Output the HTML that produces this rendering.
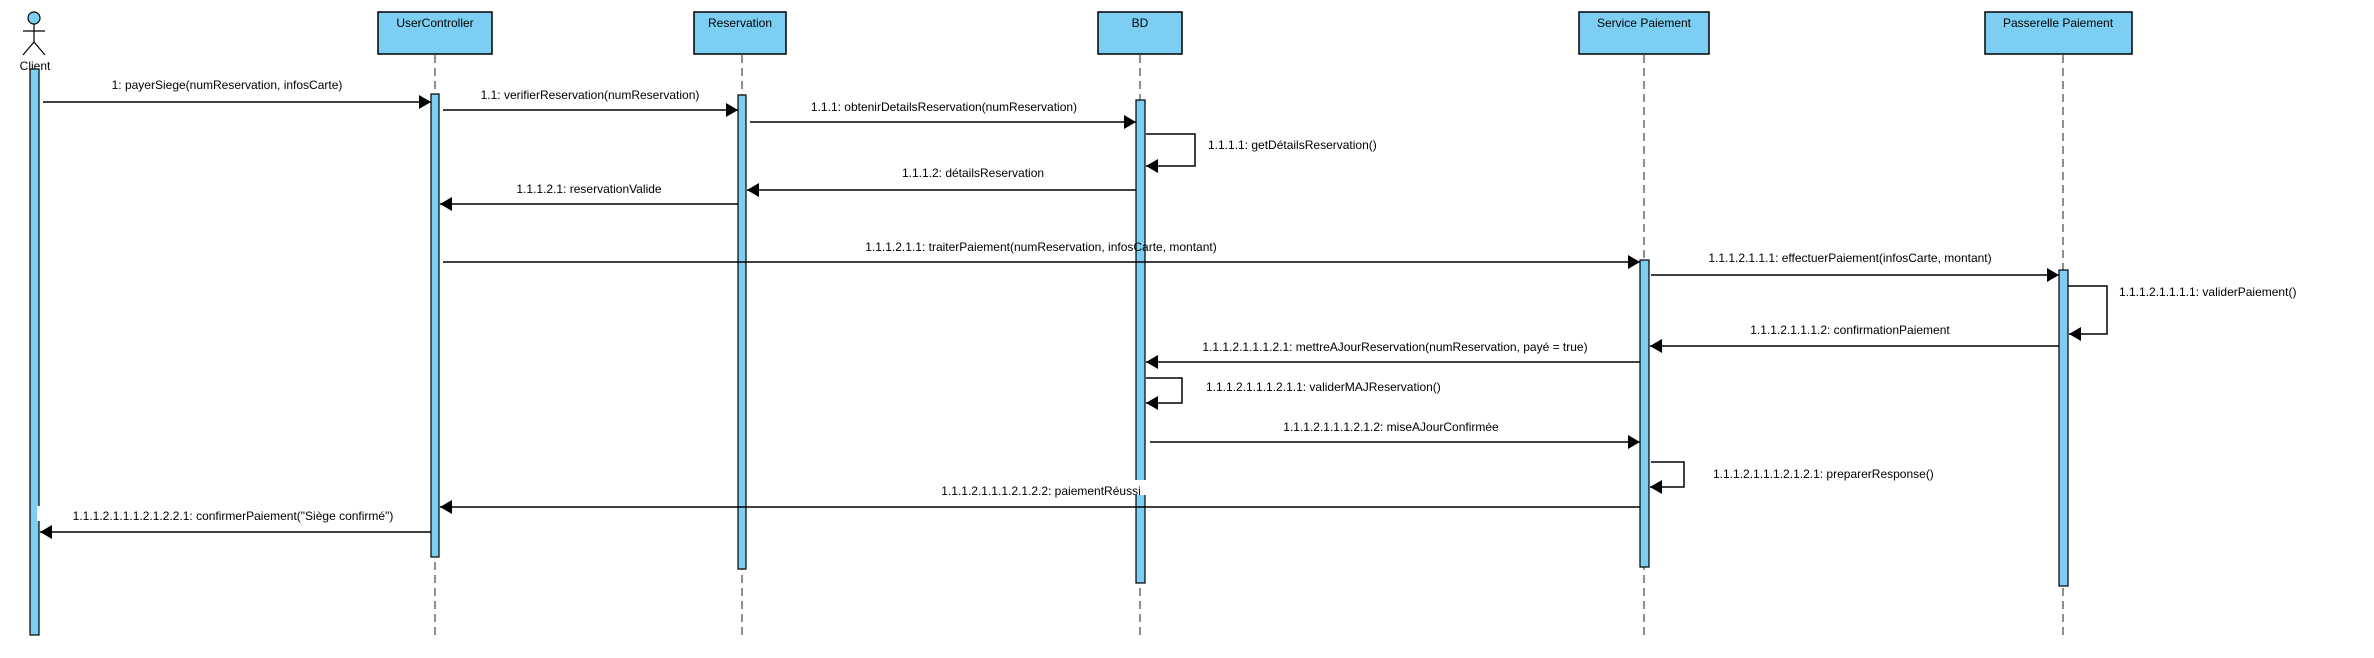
<!DOCTYPE html>
<html><head><meta charset="utf-8"><style>
html,body{margin:0;padding:0;background:#fff;}
svg{display:block;}
text{font-family:"Liberation Sans",sans-serif;font-size:12px;fill:#000;}
</style></head><body>
<svg width="2374" height="658" viewBox="0 0 2374 658" xmlns="http://www.w3.org/2000/svg">
<defs>
<marker id="a" markerWidth="12" markerHeight="14" refX="12" refY="7" orient="auto" markerUnits="userSpaceOnUse">
<path d="M0,0 L12,7 L0,14 Z" fill="#000"/></marker>
</defs>
<g stroke="#222" stroke-width="1" stroke-dasharray="8,5">
<line x1="435" y1="55" x2="435" y2="640"/>
<line x1="742" y1="55" x2="742" y2="640"/>
<line x1="1140" y1="55" x2="1140" y2="640"/>
<line x1="1644" y1="55" x2="1644" y2="640"/>
<line x1="2063" y1="55" x2="2063" y2="640"/>
</g>
<g fill="#7ccff2" stroke="#000" stroke-width="1.5">
<rect x="378" y="12" width="114" height="42"/>
<rect x="694" y="12" width="92" height="42"/>
<rect x="1098" y="12" width="84" height="42"/>
<rect x="1579" y="12" width="130" height="42"/>
<rect x="1985" y="12" width="147" height="42"/>
</g>
<g text-anchor="middle">
<text x="435" y="27">UserController</text>
<text x="740" y="27">Reservation</text>
<text x="1140" y="27">BD</text>
<text x="1644" y="27">Service Paiement</text>
<text x="2058" y="27">Passerelle Paiement</text>
</g>
<!-- actor -->
<g stroke="#000" stroke-width="1.2" fill="none">
<circle cx="34" cy="18" r="6" fill="#7ccff2"/>
<line x1="34" y1="24" x2="34" y2="42"/>
<line x1="23" y1="31" x2="45" y2="31"/>
<line x1="34" y1="42" x2="23" y2="55"/>
<line x1="34" y1="42" x2="45" y2="55"/>
</g>
<text x="35" y="70" text-anchor="middle" font-size="13">Client</text>
<!-- activations -->
<g fill="#7ccff2" stroke="#000" stroke-width="1.2">
<rect x="30" y="69" width="9" height="566"/>
<rect x="431" y="94" width="8" height="463"/>
<rect x="738" y="95" width="8" height="474"/>
<rect x="1136" y="100" width="9" height="483"/>
<rect x="1640" y="260" width="9" height="307"/>
<rect x="2059" y="270" width="9" height="316"/>
</g>
<g stroke="#000" stroke-width="1.5" fill="none" marker-end="url(#a)">
<line x1="43" y1="102" x2="431" y2="102"/>
<line x1="443" y1="110" x2="738" y2="110"/>
<line x1="750" y1="122" x2="1136" y2="122"/>
<polyline points="1146,134 1195,134 1195,166 1146,166"/>
<line x1="1136" y1="190" x2="747" y2="190"/>
<line x1="738" y1="204" x2="440" y2="204"/>
<line x1="443" y1="262" x2="1640" y2="262"/>
<line x1="1651" y1="275" x2="2059" y2="275"/>
<polyline points="2068,286 2107,286 2107,334 2069,334"/>
<line x1="2059" y1="346" x2="1650" y2="346"/>
<line x1="1640" y1="362" x2="1146" y2="362"/>
<polyline points="1146,378 1182,378 1182,403 1146,403"/>
<line x1="1150" y1="442" x2="1640" y2="442"/>
<polyline points="1651,462 1684,462 1684,487 1650,487"/>
</g>
<!-- labels with white background -->
<rect x="918" y="480" width="246" height="15" fill="#fff"/>
<rect x="37" y="506" width="392" height="15" fill="#fff"/>
<g stroke="#000" stroke-width="1.5" fill="none" marker-end="url(#a)">
<line x1="1640" y1="507" x2="440" y2="507"/>
<line x1="431" y1="532" x2="40" y2="532"/>
</g>
<g text-anchor="middle">
<text x="227" y="89">1: payerSiege(numReservation, infosCarte)</text>
<text x="590" y="99">1.1: verifierReservation(numReservation)</text>
<text x="944" y="111">1.1.1: obtenirDetailsReservation(numReservation)</text>
<text x="973" y="177">1.1.1.2: détailsReservation</text>
<text x="589" y="193">1.1.1.2.1: reservationValide</text>
<text x="1041" y="251">1.1.1.2.1.1: traiterPaiement(numReservation, infosCarte, montant)</text>
<text x="1850" y="262">1.1.1.2.1.1.1: effectuerPaiement(infosCarte, montant)</text>
<text x="1850" y="334">1.1.1.2.1.1.1.2: confirmationPaiement</text>
<text x="1395" y="351">1.1.1.2.1.1.1.2.1: mettreAJourReservation(numReservation, payé = true)</text>
<text x="1391" y="431">1.1.1.2.1.1.1.2.1.2: miseAJourConfirmée</text>
<text x="1041" y="495">1.1.1.2.1.1.1.2.1.2.2: paiementRéussi</text>
<text x="233" y="520">1.1.1.2.1.1.1.2.1.2.2.1: confirmerPaiement("Siège confirmé")</text>
</g>
<text x="1208" y="149">1.1.1.1: getDétailsReservation()</text>
<text x="2119" y="296">1.1.1.2.1.1.1.1: validerPaiement()</text>
<text x="1206" y="391">1.1.1.2.1.1.1.2.1.1: validerMAJReservation()</text>
<text x="1713" y="478">1.1.1.2.1.1.1.2.1.2.1: preparerResponse()</text>
</svg>
</body></html>
